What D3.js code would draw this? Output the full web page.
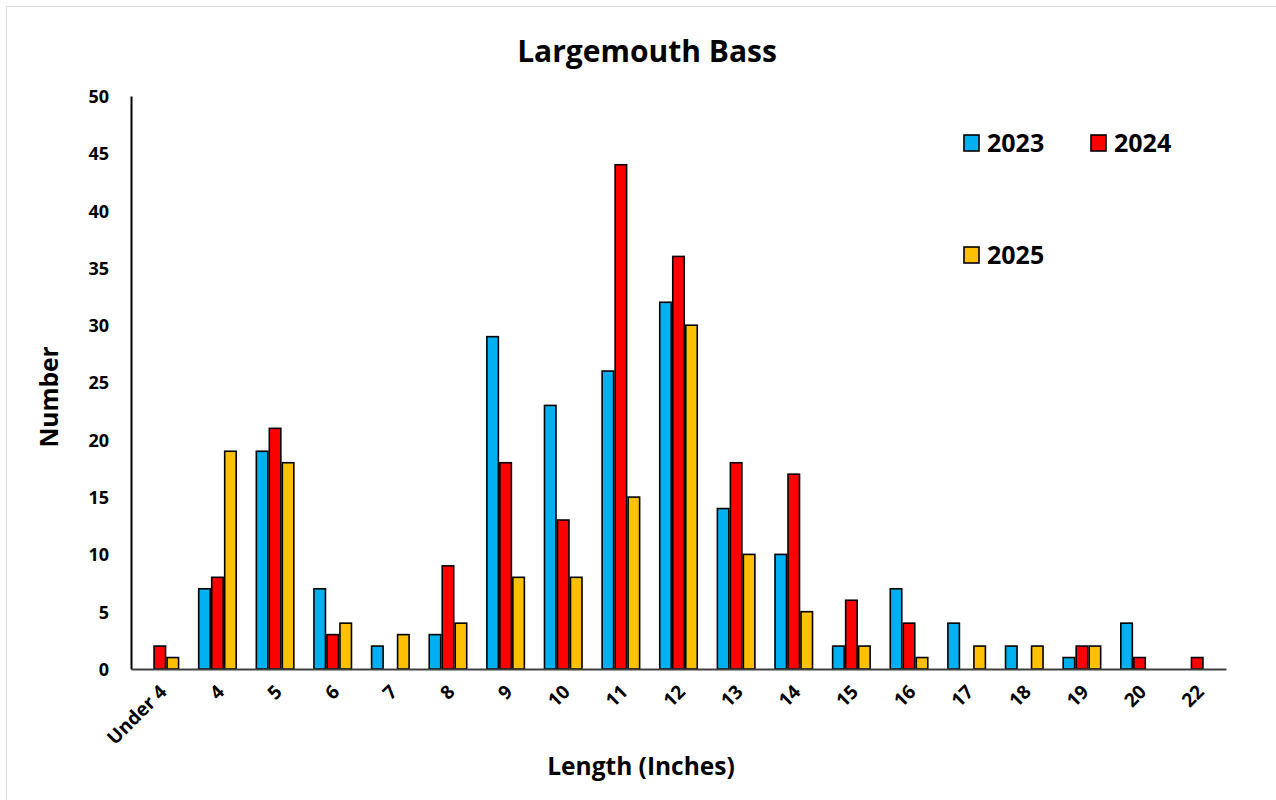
<!DOCTYPE html>
<html>
<head>
<meta charset="utf-8">
<script src="https://cdn.jsdelivr.net/npm/d3@7"></script>
<style>
  html, body { margin: 0; padding: 0; background: #fff; }
  svg { display: block; }
  text { font-family: "Open Sans", sans-serif; font-weight: bold; fill: #000; }
</style>
</head>
<body>
<svg id="chart" width="1276" height="800"></svg>
<script>
// Length classes (inches)
const categories = ["Under 4", "4", "5", "6", "7", "8", "9", "10", "11", "12",
                    "13", "14", "15", "16", "17", "18", "19", "20", "22"];
// Fish counts per length class
const values2023 = [0, 7, 19, 7, 2, 3, 29, 23, 26, 32, 14, 10, 2, 7, 4, 2, 1, 4, 0];
const values2024 = [2, 8, 21, 3, 0, 9, 18, 13, 44, 36, 18, 17, 6, 4, 0, 0, 2, 1, 1];
const values2025 = [1, 19, 18, 4, 3, 4, 8, 8, 15, 30, 10, 5, 2, 1, 2, 2, 2, 0, 0];
const seriesNames = ["2023", "2024", "2025"];
const seriesColors = ["#00B0F0", "#FF0000", "#FFC000"];
const yTicks = [0, 5, 10, 15, 20, 25, 30, 35, 40, 45, 50];

const series = [values2023, values2024, values2025];
const FONT = "'Open Sans', sans-serif";

const svg = d3.select("#chart");

// chart frame
svg.append("rect")
  .attr("x", 6.5).attr("y", 6.5)
  .attr("width", 1280).attr("height", 800)
  .attr("fill", "none").attr("stroke", "#d9d9d9").attr("stroke-width", 1);

const plotLeft = 131, plotRight = 1226, plotTop = 96, plotBottom = 669;

const x = d3.scaleBand().domain(categories).range([plotLeft, plotRight]).paddingInner(0).paddingOuter(0);
const y = d3.scaleLinear().domain([0, 50]).range([plotBottom, plotTop]);

const barW = 11.5, barStep = 13;

// bars
series.forEach((vals, si) => {
  svg.append("g").selectAll("rect")
    .data(vals.map((v, i) => ({ c: categories[i], v })).filter(d => d.v > 0))
    .join("rect")
    .attr("x", d => x(d.c) + x.bandwidth() / 2 + (si - 1) * barStep - barW / 2)
    .attr("y", d => y(d.v))
    .attr("width", barW)
    .attr("height", d => y(0) - y(d.v))
    .attr("fill", seriesColors[si])
    .attr("stroke", "#000")
    .attr("stroke-width", 1.6);
});

// y axis
const yAxis = svg.append("g")
  .attr("transform", `translate(${plotLeft},0)`)
  .call(d3.axisLeft(y).tickValues(yTicks).tickSize(0).tickPadding(22));
yAxis.select(".domain").attr("stroke", "#000").attr("stroke-width", 2);
yAxis.selectAll("text")
  .style("font-size", "18px").style("font-family", FONT).style("font-weight", "bold")
  .attr("dy", "0.36em");

// x axis
const xAxis = svg.append("g")
  .attr("transform", `translate(0,${plotBottom})`)
  .call(d3.axisBottom(x).tickSize(0).tickPadding(0));
xAxis.select(".domain").attr("stroke", "#404040").attr("stroke-width", 2);
xAxis.selectAll("text")
  .style("font-size", "19px").style("font-family", FONT).style("font-weight", "bold")
  .attr("text-anchor", "end")
  .attr("dy", null)
  .attr("transform", "translate(8,24) rotate(-45)");

// title
svg.append("text")
  .attr("x", 647).attr("y", 62)
  .attr("text-anchor", "middle")
  .style("font-size", "30px")
  .text("Largemouth Bass");

// axis titles
svg.append("text")
  .attr("x", 641).attr("y", 775)
  .attr("text-anchor", "middle")
  .style("font-size", "24.5px")
  .text("Length (Inches)");

svg.append("text")
  .attr("transform", "translate(58,397) rotate(-90)")
  .attr("text-anchor", "middle")
  .style("font-size", "24.5px")
  .text("Number");

// legend
const legendPos = [[964, 143], [1091, 143], [964, 255]];
seriesNames.forEach((name, i) => {
  const [lx, ly] = legendPos[i];
  svg.append("rect")
    .attr("x", lx).attr("y", ly - 8)
    .attr("width", 15).attr("height", 16)
    .attr("fill", seriesColors[i])
    .attr("stroke", "#000").attr("stroke-width", 1.6);
  svg.append("text")
    .attr("x", lx + 23).attr("y", ly + 9)
    .style("font-size", "25px")
    .text(name);
});
</script>
</body>
</html>
